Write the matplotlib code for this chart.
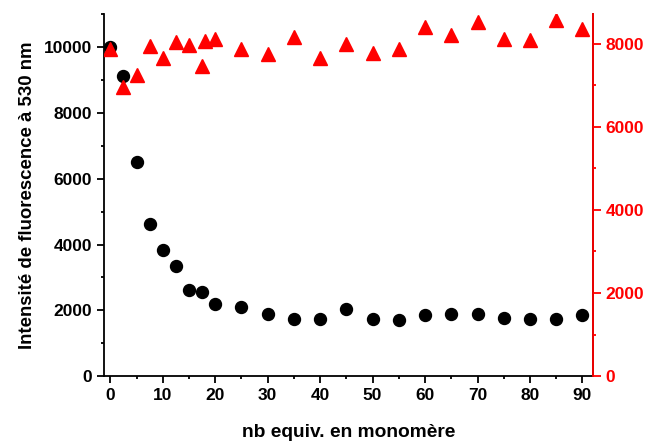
import numpy as np
import matplotlib.pyplot as plt
from matplotlib.ticker import MultipleLocator

plt.rcParams['font.family'] = ['Liberation Sans', 'DejaVu Sans']
plt.rcParams['font.weight'] = 'bold'

# données
x_int = [0, 2.5, 5, 7.5, 10, 12.5, 15, 17.5, 20, 25, 30, 35, 40, 45,
         50, 55, 60, 65, 70, 75, 80, 85, 90]
intensite = [10000, 9130, 6510, 4610, 3820, 3340, 2610, 2570, 2200, 2110, 1890, 1740, 1740, 2030,
             1740, 1700, 1850, 1890, 1890, 1780, 1740, 1740, 1850]

x_ref = [0, 2.5, 5, 7.5, 10, 12.5, 15, 17.5, 18, 20, 25, 30, 35, 40, 45,
         50, 55, 60, 65, 70, 75, 80, 85, 90]
reference = [7860, 6950, 7240, 7950, 7650, 8050, 7970, 7460, 8070, 8100, 7860, 7760, 8170, 7660, 7980,
             7770, 7860, 8410, 8200, 8520, 8100, 8080, 8570, 8350]

fig = plt.figure(figsize=(6.48, 4.41), dpi=100)
ax = fig.add_axes([0.1605, 0.147, 0.7545, 0.821])
ax2 = ax.twinx()

ax.plot(x_int, intensite, 'o', color='black', markersize=8.6, linestyle='none')
ax2.plot(x_ref, reference, '^', color='red', markersize=9.5, linestyle='none')

ax.set_xlim(-1.2, 92)
ax.set_ylim(0, 11000)
ax2.set_ylim(0, 8710)

ax.xaxis.set_major_locator(MultipleLocator(10))
ax.xaxis.set_minor_locator(MultipleLocator(5))
ax.yaxis.set_major_locator(MultipleLocator(2000))
ax.yaxis.set_minor_locator(MultipleLocator(1000))
ax2.yaxis.set_major_locator(MultipleLocator(2000))
ax2.yaxis.set_minor_locator(MultipleLocator(1000))

for a in (ax, ax2):
    a.spines['top'].set_visible(False)
    for s in a.spines.values():
        s.set_linewidth(1.3)

ax.tick_params(which='major', direction='out', length=5, width=1.3, labelsize=12.5)
ax.tick_params(which='minor', direction='out', length=2.5, width=1.3)
ax.tick_params(axis='y', which='both', right=False)
ax2.spines['right'].set_color('red')
ax2.spines['left'].set_visible(False)
ax2.spines['bottom'].set_visible(False)
ax2.tick_params(which='major', direction='out', length=5.5, width=1.3, colors='red', labelsize=12.5)
ax2.tick_params(which='minor', direction='out', length=2.5, width=1.3, colors='red')

for lab in ax.get_xticklabels() + ax.get_yticklabels() + ax2.get_yticklabels():
    lab.set_fontweight('bold')

ax.set_xlabel('nb equiv. en monomère', fontsize=13.8, fontweight='bold', labelpad=15)
ax.set_ylabel('Intensité de fluorescence à 530 nm', fontsize=13.4, fontweight='bold', labelpad=6)

fig.savefig('out.png', dpi=100)
